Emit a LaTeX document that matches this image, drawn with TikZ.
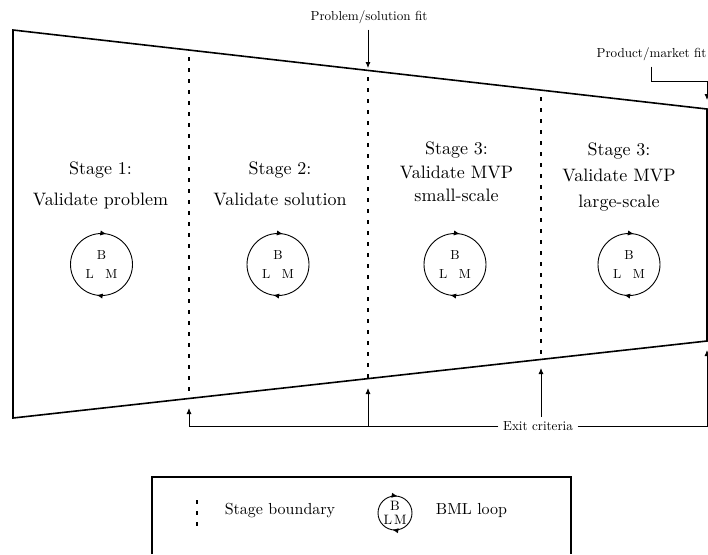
\documentclass[tikz,border=0pt]{standalone}
\usepackage{fontspec}
% one design size for every text size, so small labels keep the 10pt proportions
\setmainfont{lmroman10-regular}[Extension=.otf]
\usetikzlibrary{arrows.meta,decorations.markings,calc}
\begin{document}
\begin{tikzpicture}[x=0.5pt,y=-0.5pt,
  outline/.style={line width=0.8pt, line join=miter},
  boundary/.style={line width=0.8pt, dash pattern=on 2pt off 3.5pt, dash phase=2pt},
  arr/.style={line width=0.45pt, -{Latex[length=3pt,width=2.6pt]}},
  lbl/.style={font=\fontsize{6.55}{8}\selectfont, inner sep=3pt},
  stagetext/.style={align=center, anchor=north, inner sep=0pt},
  looptip/.style={decoration={markings,
      mark=at position 0.225 with {\arrowreversed{Latex[length=3pt,width=2.6pt]}},
      mark=at position 0.725 with {\arrowreversed{Latex[length=3pt,width=2.6pt]}}},
      postaction={decorate}},
  bml/.style={circle, draw, line width=0.45pt, minimum size=31pt, inner sep=0pt,
      align=center, font=\fontsize{6.55}{9.2}\selectfont, looptip},
  bmlkey/.style={circle, draw, line width=0.45pt, minimum size=17pt, inner sep=0pt,
      align=center, font=\fontsize{6.8}{7}\selectfont, looptip},
  keytext/.style={font=\fontsize{8}{9.6}\selectfont, anchor=base, inner sep=0pt},
  keybox/.style={line width=0.6pt},
]
\useasboundingbox (0,0) rectangle (708,554);

% funnel outline
\coordinate (tl) at (13,30);
\coordinate (tr) at (707,109);
\coordinate (br) at (707,341);
\coordinate (bl) at (13,418);
\draw[outline] (tl) -- (tr) -- (br) -- (bl) -- cycle;

% stage boundaries
\coordinate (b1t) at ($(tl)!0.2536!(tr)$);
\coordinate (b1b) at ($(bl)!0.2536!(br)$);
\coordinate (b2t) at ($(tl)!0.5115!(tr)$);
\coordinate (b2b) at ($(bl)!0.5115!(br)$);
\coordinate (b3t) at ($(tl)!0.7608!(tr)$);
\coordinate (b3b) at ($(bl)!0.7608!(br)$);
\draw[boundary] (b1t) -- (b1b);
\draw[boundary] (b2t) -- (b2b);
\draw[boundary] (b3t) -- (b3b);

% stage titles
\node[stagetext, font=\fontsize{9}{15.5}\selectfont] (s1) at (100.5,161) {Stage 1:\\Validate problem};
\node[stagetext, font=\fontsize{9}{15.5}\selectfont] (s2) at (280,161) {Stage 2:\\Validate solution};
\node[stagetext, font=\fontsize{9}{11.75}\selectfont] (s3) at (456.5,141.5) {Stage 3:\\Validate MVP\\small-scale};
\node[stagetext, font=\fontsize{9}{13}\selectfont] (s4) at (619,142.5) {Stage 3:\\Validate MVP\\large-scale};

% build-measure-learn loops
\node[bml] (loop1) at (101.5,264.5) {B\\L\hspace{5.7pt}M};
\node[bml] (loop2) at (278,264.5) {B\\L\hspace{5.7pt}M};
\node[bml] (loop3) at (455,264.5) {B\\L\hspace{5.7pt}M};
\node[bml] (loop4) at (629,264.5) {B\\L\hspace{5.7pt}M};

% fit markers
\node[lbl, anchor=base] (psfit) at (369,20) {Problem/solution fit};
\coordinate (pstip) at (368,68);
\draw[arr] (psfit.south -| pstip) -- (pstip);

\node[lbl, anchor=base] (pmfit) at (651.5,57) {Product/market fit};
\coordinate (pmbend) at (707,81);
\coordinate (pmtip) at (707,100);
\draw[arr] (pmfit.south) |- (pmbend) -- (pmtip);

% exit criteria
\node[lbl, inner sep=2.2pt] (exit) at (538,426) {Exit criteria};
\coordinate (ex1) at (189,408);
\coordinate (ex2b) at (368,426);
\coordinate (ex2) at (368,388);
\coordinate (ex3) at (541,368);
\coordinate (ex4) at (707,350);
\draw[arr] (exit.west) -| (ex1);
\draw[arr] (ex2b) -- (ex2);
\draw[arr] (exit.north -| ex3) -- (ex3);
\draw[arr] (exit.east) -| (ex4);

% key
\draw[keybox] (152,554) -- (152,477) -- (571,477) -- (571,554);
\coordinate (kbt) at (197,500);
\coordinate (kbb) at (197,527);
\draw[boundary, dash phase=0pt] (kbt) -- (kbb);
\node[keytext] (kstage) at (280,514.5) {Stage boundary};
\node[bmlkey] (kloop) at (395,513) {B\\L\hspace{1pt}M};
\node[keytext] (kbml) at (471.5,514.5) {BML loop};
\end{tikzpicture}
\end{document}
